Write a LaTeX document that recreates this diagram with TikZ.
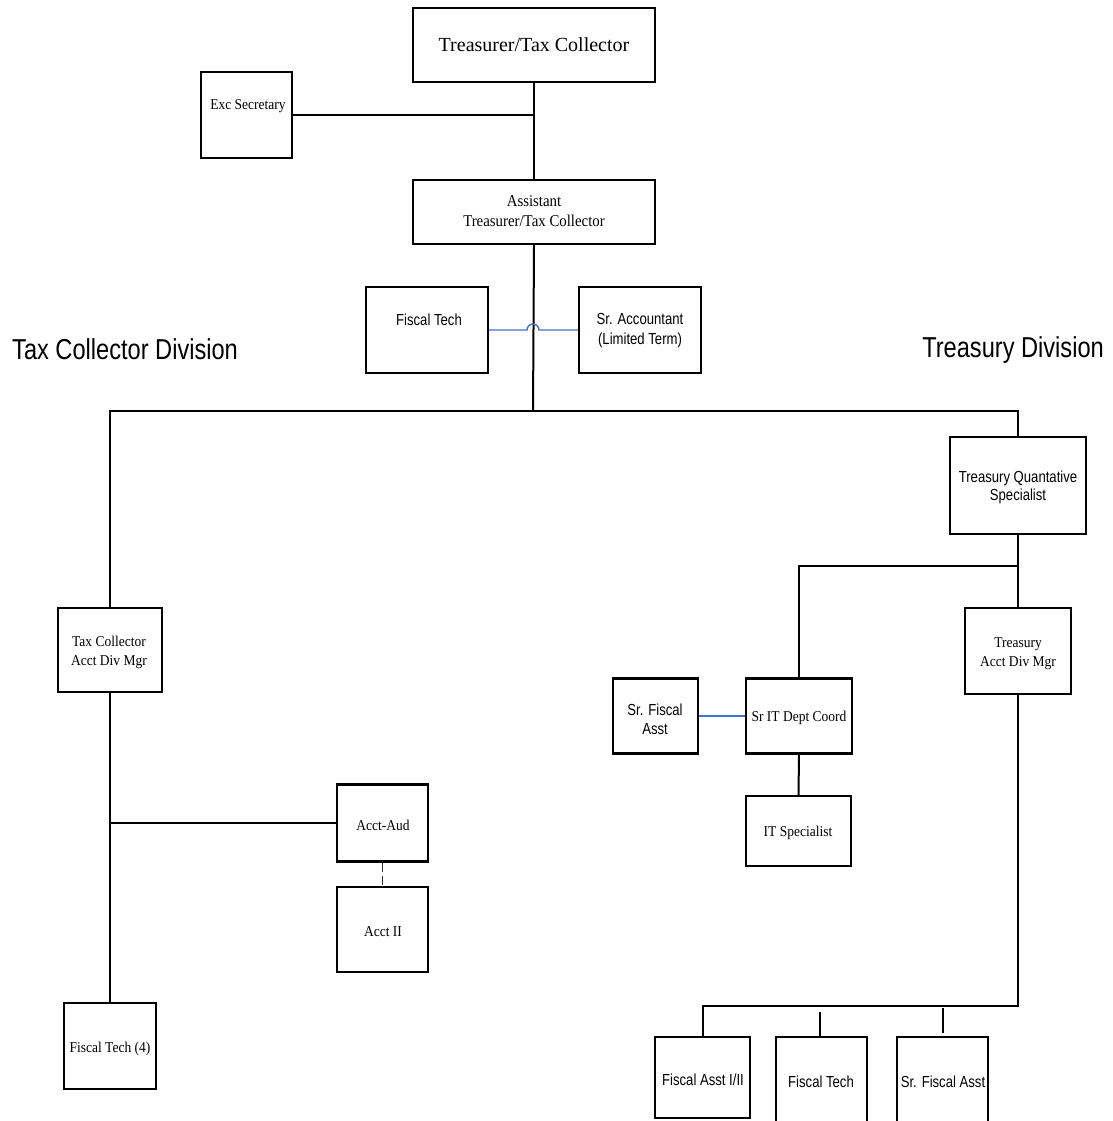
\documentclass[tikz,border=0pt]{standalone}
\usepackage{fontspec}
\setmainfont{Liberation Serif}
\newfontfamily\nser[FakeStretch=0.9]{Liberation Serif}
\newfontfamily\nsans[FakeStretch=0.82]{Liberation Sans}
\definecolor{lnblue}{RGB}{68,114,196}
\tikzset{
  box/.style={draw=black, line width=2.2pt, inner sep=0pt},
  lbl/.style={inner sep=0pt, align=center},
  ser/.style={font=\nser\fontsize{15}{19}\selectfont},
  sans/.style={font=\nsans\fontsize{16}{19}\selectfont},
  conn/.style={draw=black, line width=2pt},
  blueconn/.style={draw=lnblue, line width=1.4pt},
  dashconn/.style={draw=black!80, line width=1pt, dash pattern=on 9pt off 4pt}
}
\begin{document}
\begin{tikzpicture}[x=1pt,y=-1pt]
\useasboundingbox[fill=white] (0,0) rectangle (1112,1121);
% boxes
\node[box, minimum width=242pt, minimum height=74pt] (trs) at (534,45) {};
\node[box, minimum width=91pt, minimum height=86pt] (exc) at (246.5,115) {};
\node[box, minimum width=242pt, minimum height=64pt] (asst) at (534,212) {};
\node[box, minimum width=122pt, minimum height=86pt] (fiscaltech) at (427,330) {};
\node[box, minimum width=122pt, minimum height=86pt] (sracct) at (640,330) {};
\node[box, minimum width=104pt, minimum height=84pt] (taxmgr) at (110,650) {};
\node[box, minimum width=91pt, minimum height=77pt] (acctaud) at (382.5,823) {};
\node[box, minimum width=91pt, minimum height=85pt] (acct2) at (382.5,929.5) {};
\node[box, minimum width=92pt, minimum height=86pt] (ft4) at (110,1046) {};
\node[box, minimum width=136pt, minimum height=97pt] (tqs) at (1018,485.5) {};
\node[box, minimum width=106pt, minimum height=86pt] (tamgr) at (1018,651) {};
\node[box, minimum width=106pt, minimum height=75pt] (srit) at (799,716) {};
\node[box, minimum width=85pt, minimum height=75pt] (srfa) at (655.5,716) {};
\node[box, minimum width=105pt, minimum height=70pt] (itspec) at (798.5,831) {};
\node[box, minimum width=95pt, minimum height=81pt] (fa12) at (702.5,1077.5) {};
\node[box, minimum width=91pt, minimum height=100pt] (ftb) at (821.5,1087) {};
\node[box, minimum width=91pt, minimum height=100pt] (sfab) at (942.5,1087) {};
% labels
\node[lbl, font=\fontsize{20}{24}\selectfont] (trs-t) at (534,45) {Treasurer/Tax Collector};
\node[lbl, ser] (exc-t) at (248,106) {Exc Secretary};
\node[lbl, font=\nser\fontsize{16.5}{20}\selectfont] (asst-t) at (534,211.5) {Assistant\\Treasurer/Tax Collector};
\node[lbl, sans] (fiscaltech-t) at (429,319.5) {Fiscal Tech};
\node[lbl, font=\nsans\fontsize{16}{20}\selectfont] (sracct-t) at (640,330.5) {Sr. Accountant\\(Limited Term)};
\node[lbl, anchor=west, font=\nsans\fontsize{28.8}{33}\selectfont] (tcdiv) at (12,349) {Tax Collector Division};
\node[lbl, anchor=east, font=\nsans\fontsize{28.8}{33}\selectfont] (trdiv) at (1104,350) {Treasury Division};
\node[lbl, ser] (taxmgr-t) at (109,652) {Tax Collector\\Acct Div Mgr};
\node[lbl, ser] (acctaud-t) at (383,825) {Acct-Aud};
\node[lbl, ser] (acct2-t) at (383,932) {Acct II};
\node[lbl, ser] (ft4-t) at (110,1049) {Fiscal Tech (4)};
\node[lbl, font=\nsans\fontsize{16}{18}\selectfont] (tqs-t) at (1018,487) {Treasury Quantative\\Specialist};
\node[lbl, ser] (tamgr-t) at (1018,653.5) {Treasury\\Acct Div Mgr};
\node[lbl, ser] (srit-t) at (799,718) {Sr IT Dept Coord};
\node[lbl, sans] (srfa-t) at (655,719.5) {Sr. Fiscal\\Asst};
\node[lbl, ser] (itspec-t) at (798,833) {IT Specialist};
\node[lbl, sans] (fa12-t) at (703,1080) {Fiscal Asst I/II};
\node[lbl, sans] (ftb-t) at (821,1082) {Fiscal Tech};
\node[lbl, sans] (sfab-t) at (943,1082) {Sr. Fiscal Asst};
% junction coordinates
\coordinate (jexc) at (534,115);
\coordinate (jbar) at (533,411);
\coordinate (jq) at (1018,566);
\coordinate (jaud) at (110,823);
\coordinate (jbot) at (1018,1006);
\coordinate (jump) at (527,330);
\coordinate (ftbtop) at (820,1012);
\coordinate (sfatop) at (943,1008);
% connectors
\draw[conn] (trs.south) -- (asst.north);
\draw[conn] (exc.east) -- (jexc);
\draw[conn] (asst.south) -- (jbar);
\draw[conn] (taxmgr.north) -- (taxmgr.north |- jbar) -- (tqs.north |- jbar) -- (tqs.north);
\draw[conn] (tqs.south) -- (tamgr.north);
\draw[conn] (jq) -| (srit.north);
\draw[conn] (srit.south) -- (itspec.north);
\draw[conn] (taxmgr.south) -- (ft4.north);
\draw[conn] (jaud) -- (acctaud.west);
\draw[dashconn] (acctaud.south) -- (acct2.north);
\draw[conn] (tamgr.south) -- (jbot) -| (fa12.north);
\draw[conn] (ftbtop) -- (ftbtop |- ftb.north);
\draw[conn] (sfatop) -- ++(0,25);
\draw[blueconn] (fiscaltech.east) -- (jump) arc[start angle=180, end angle=360, radius=6] -- (sracct.west);
\draw[blueconn] (srfa.east) -- (srit.west);
\end{tikzpicture}
\end{document}
